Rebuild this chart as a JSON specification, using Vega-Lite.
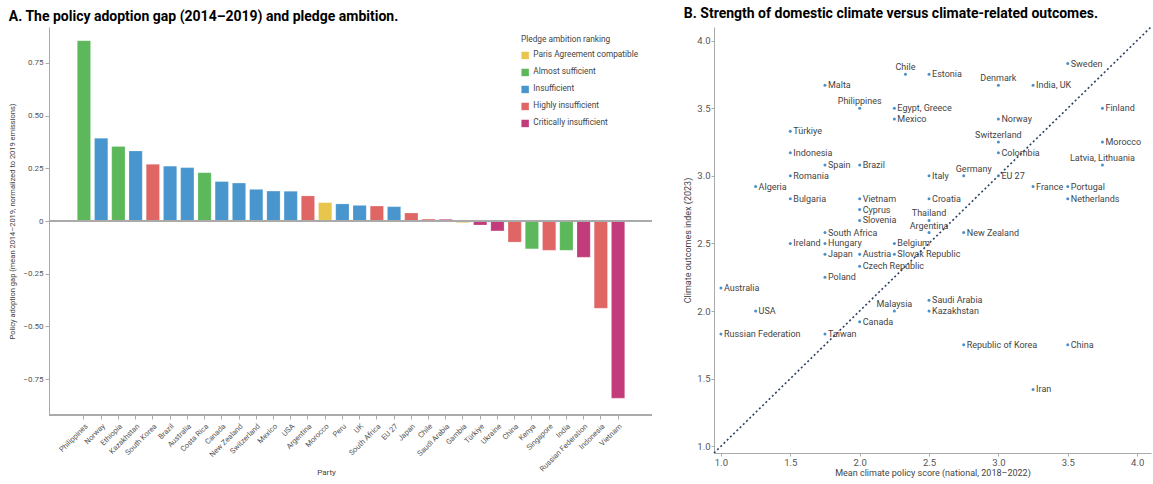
{
  "$schema": "https://vega.github.io/schema/vega-lite/v6.json",
  "padding": {"left": 8, "top": 6, "right": 0, "bottom": 0},
  "spacing": 30,
  "background": "white",
  "config": {
    "view": {"stroke": null},
    "font": "Roboto",
    "axis": {"grid": false, "domainColor": "#aaaaaa", "tickColor": "#aaaaaa", "labelColor": "#555555", "titleColor": "#444444", "titleFontWeight": "normal"}
  },
  "datasets": {
    "gap": [
      {"party": "Philippines", "gap": 0.855, "rank": "Almost sufficient"},
      {"party": "Norway", "gap": 0.392, "rank": "Insufficient"},
      {"party": "Ethiopia", "gap": 0.353, "rank": "Almost sufficient"},
      {"party": "Kazakhstan", "gap": 0.332, "rank": "Insufficient"},
      {"party": "South Korea", "gap": 0.269, "rank": "Highly insufficient"},
      {"party": "Brazil", "gap": 0.26, "rank": "Insufficient"},
      {"party": "Australia", "gap": 0.253, "rank": "Insufficient"},
      {"party": "Costa Rica", "gap": 0.229, "rank": "Almost sufficient"},
      {"party": "Canada", "gap": 0.187, "rank": "Insufficient"},
      {"party": "New Zealand", "gap": 0.18, "rank": "Insufficient"},
      {"party": "Switzerland", "gap": 0.15, "rank": "Insufficient"},
      {"party": "Mexico", "gap": 0.142, "rank": "Insufficient"},
      {"party": "USA", "gap": 0.141, "rank": "Insufficient"},
      {"party": "Argentina", "gap": 0.119, "rank": "Highly insufficient"},
      {"party": "Morocco", "gap": 0.087, "rank": "Paris Agreement compatible"},
      {"party": "Peru", "gap": 0.081, "rank": "Insufficient"},
      {"party": "UK", "gap": 0.074, "rank": "Insufficient"},
      {"party": "South Africa", "gap": 0.071, "rank": "Highly insufficient"},
      {"party": "EU 27", "gap": 0.068, "rank": "Insufficient"},
      {"party": "Japan", "gap": 0.038, "rank": "Highly insufficient"},
      {"party": "Chile", "gap": 0.009, "rank": "Highly insufficient"},
      {"party": "Saudi Arabia", "gap": 0.008, "rank": "Critically insufficient"},
      {"party": "Gambia", "gap": -0.008, "rank": "Paris Agreement compatible"},
      {"party": "Türkiye", "gap": -0.019, "rank": "Critically insufficient"},
      {"party": "Ukraine", "gap": -0.047, "rank": "Critically insufficient"},
      {"party": "China", "gap": -0.1, "rank": "Highly insufficient"},
      {"party": "Kenya", "gap": -0.132, "rank": "Almost sufficient"},
      {"party": "Singapore", "gap": -0.139, "rank": "Highly insufficient"},
      {"party": "India", "gap": -0.139, "rank": "Almost sufficient"},
      {"party": "Russian Federation", "gap": -0.172, "rank": "Critically insufficient"},
      {"party": "Indonesia", "gap": -0.414, "rank": "Highly insufficient"},
      {"party": "Vietnam", "gap": -0.84, "rank": "Critically insufficient"}
    ],
    "pts": [
      {"c": "Sweden", "x": 3.5, "y": 3.83},
      {"c": "Chile", "x": 2.33, "y": 3.75},
      {"c": "Estonia", "x": 2.5, "y": 3.75},
      {"c": "Malta", "x": 1.75, "y": 3.67},
      {"c": "Denmark", "x": 3.0, "y": 3.67},
      {"c": "India, UK", "x": 3.25, "y": 3.67},
      {"c": "Philippines", "x": 2.0, "y": 3.5},
      {"c": "Egypt, Greece", "x": 2.25, "y": 3.5},
      {"c": "Finland", "x": 3.75, "y": 3.5},
      {"c": "Mexico", "x": 2.25, "y": 3.42},
      {"c": "Norway", "x": 3.0, "y": 3.42},
      {"c": "Türkiye", "x": 1.5, "y": 3.33},
      {"c": "Switzerland", "x": 3.0, "y": 3.25},
      {"c": "Morocco", "x": 3.75, "y": 3.25},
      {"c": "Indonesia", "x": 1.5, "y": 3.17},
      {"c": "Colombia", "x": 3.0, "y": 3.17},
      {"c": "Spain", "x": 1.75, "y": 3.08},
      {"c": "Brazil", "x": 2.0, "y": 3.08},
      {"c": "Latvia, Lithuania", "x": 3.75, "y": 3.08},
      {"c": "Romania", "x": 1.5, "y": 3.0},
      {"c": "Italy", "x": 2.5, "y": 3.0},
      {"c": "Germany", "x": 2.75, "y": 3.0},
      {"c": "EU 27", "x": 3.0, "y": 3.0},
      {"c": "Algeria", "x": 1.25, "y": 2.92},
      {"c": "France", "x": 3.25, "y": 2.92},
      {"c": "Portugal", "x": 3.5, "y": 2.92},
      {"c": "Bulgaria", "x": 1.5, "y": 2.83},
      {"c": "Vietnam", "x": 2.0, "y": 2.83},
      {"c": "Croatia", "x": 2.5, "y": 2.83},
      {"c": "Netherlands", "x": 3.5, "y": 2.83},
      {"c": "Cyprus", "x": 2.0, "y": 2.75},
      {"c": "Slovenia", "x": 2.0, "y": 2.67},
      {"c": "Thailand", "x": 2.5, "y": 2.67},
      {"c": "South Africa", "x": 1.75, "y": 2.58},
      {"c": "Argentina", "x": 2.5, "y": 2.58},
      {"c": "New Zealand", "x": 2.75, "y": 2.58},
      {"c": "Ireland", "x": 1.5, "y": 2.5},
      {"c": "Hungary", "x": 1.75, "y": 2.5},
      {"c": "Belgium", "x": 2.25, "y": 2.5},
      {"c": "Japan", "x": 1.75, "y": 2.42},
      {"c": "Austria", "x": 2.0, "y": 2.42},
      {"c": "Slovak Republic", "x": 2.25, "y": 2.42},
      {"c": "Czech Republic", "x": 2.0, "y": 2.33},
      {"c": "Poland", "x": 1.75, "y": 2.25},
      {"c": "Australia", "x": 1.0, "y": 2.17},
      {"c": "Saudi Arabia", "x": 2.5, "y": 2.08},
      {"c": "USA", "x": 1.25, "y": 2.0},
      {"c": "Malaysia", "x": 2.25, "y": 2.0},
      {"c": "Kazakhstan", "x": 2.5, "y": 2.0},
      {"c": "Canada", "x": 2.0, "y": 1.92},
      {"c": "Russian Federation", "x": 1.0, "y": 1.83},
      {"c": "Taiwan", "x": 1.75, "y": 1.83},
      {"c": "Republic of Korea", "x": 2.75, "y": 1.75},
      {"c": "China", "x": 3.5, "y": 1.75},
      {"c": "Iran", "x": 3.25, "y": 1.42}
    ],
    "diag": [
      {"x": 0.95, "y": 0.95},
      {"x": 4.1, "y": 4.1}
    ]
  },
  "hconcat": [
    {
      "width": 603,
      "height": 388,
      "title": {"text": "A.  The policy adoption gap (2014–2019) and pledge ambition.", "anchor": "start", "frame": "bounds", "fontSize": 14, "fontWeight": "bold", "font": "Roboto", "color": "#000000", "offset": 3},
      "data": {"name": "gap"},
      "layer": [
        {
          "mark": {"type": "bar", "stroke": "#ffffff", "strokeOpacity": 0.4, "strokeWidth": 0.5},
          "encoding": {
            "x": {"field": "party", "type": "nominal", "sort": null,
              "scale": {"paddingInner": 0.23, "paddingOuter": 0, "range": [28.3, 575.7]},
              "axis": {"title": "Party", "domain": false, "labelAngle": -45, "labelAlign": "right", "labelBaseline": "top", "labelFontSize": 7.5, "titleFontSize": 8, "tickSize": 4, "labelPadding": 3, "titleY": 53, "titleX": 277}},
            "y": {"field": "gap", "type": "quantitative",
              "scale": {"domain": [-0.92, 0.92], "nice": false},
              "axis": {"title": "Policy adoption gap (mean 2014–2019, normalized to 2019 emissions)", "values": [-0.75, -0.5, -0.25, 0, 0.25, 0.5, 0.75], "labelExpr": "datum.value == 0 ? '0' : format(datum.value, '.2f')", "labelFontSize": 8, "titleFontSize": 7.5, "tickSize": 4, "titlePadding": 6}},
            "color": {"field": "rank", "type": "nominal",
              "scale": {"domain": ["Paris Agreement compatible", "Almost sufficient", "Insufficient", "Highly insufficient", "Critically insufficient"],
                "range": ["#e8c54d", "#5cb85a", "#4896cd", "#e06666", "#c23b7b"]},
              "legend": {"title": "Pledge ambition ranking", "orient": "none", "legendX": 472, "legendY": 8, "symbolType": "square", "symbolSize": 55, "symbolStrokeWidth": 0, "titleFontSize": 8.3, "titleFontWeight": "normal", "titleColor": "#444444", "labelFontSize": 8.3, "labelColor": "#444444", "rowPadding": 8, "titlePadding": 8}}
          }
        },
        {
          "mark": {"type": "rule", "color": "#aaaaaa", "strokeWidth": 1.5},
          "encoding": {"y": {"datum": 0}}
        },
        {
          "mark": {"type": "rule", "color": "#aaaaaa", "strokeWidth": 1},
          "encoding": {"y": {"datum": -0.92}}
        }
      ]
    },
    {
      "width": 437,
      "height": 426,
      "title": {"text": "B. Strength of domestic climate versus climate-related outcomes.", "anchor": "start", "frame": "bounds", "fontSize": 14, "fontWeight": "bold", "font": "Roboto", "color": "#000000", "offset": 3},
      "encoding": {
        "x": {"field": "x", "type": "quantitative", "scale": {"domain": [0.95, 4.1], "nice": false, "zero": false},
          "axis": {"title": "Mean climate policy score (national, 2018–2022)", "values": [1, 1.5, 2, 2.5, 3, 3.5, 4], "format": ".1f", "labelFontSize": 9.5, "titleFontSize": 9, "tickSize": 3, "labelPadding": 1, "titlePadding": 2}},
        "y": {"field": "y", "type": "quantitative", "scale": {"domain": [0.95, 4.1], "nice": false, "zero": false},
          "axis": {"title": "Climate outcomes index (2023)", "values": [1, 1.5, 2, 2.5, 3, 3.5, 4], "format": ".1f", "labelFontSize": 9.5, "titleFontSize": 9, "tickSize": 3, "labelPadding": 1, "titlePadding": 4}}
      },
      "layer": [
        {
          "data": {"name": "diag"},
          "mark": {"type": "line", "color": "#2d4163", "strokeDash": [2, 2.5], "strokeWidth": 1.6}
        },
        {
          "data": {"name": "pts"},
          "mark": {"type": "circle", "size": 9, "color": "#4a90c8", "opacity": 1}
        },
        {
          "data": {"name": "pts"},
          "transform": [{"filter": {"not": {"field": "c", "oneOf": ["Chile", "Philippines", "Denmark", "Switzerland", "Latvia, Lithuania", "Germany", "Thailand", "Argentina", "Malaysia"]}}}],
          "mark": {"type": "text", "align": "left", "baseline": "middle", "dx": 3, "fontSize": 9, "color": "#444444"},
          "encoding": {"text": {"field": "c"}}
        },
        {
          "data": {"name": "pts"},
          "transform": [{"filter": {"field": "c", "oneOf": ["Chile", "Philippines", "Denmark", "Switzerland", "Latvia, Lithuania", "Thailand", "Argentina", "Malaysia"]}}],
          "mark": {"type": "text", "align": "center", "baseline": "middle", "dy": -7, "fontSize": 9, "color": "#444444"},
          "encoding": {"text": {"field": "c"}}
        },
        {
          "data": {"name": "pts"},
          "transform": [{"filter": {"field": "c", "equal": "Germany"}}],
          "mark": {"type": "text", "align": "center", "baseline": "middle", "dx": 10, "dy": -7, "fontSize": 9, "color": "#444444"},
          "encoding": {"text": {"field": "c"}}
        }
      ]
    }
  ]
}
